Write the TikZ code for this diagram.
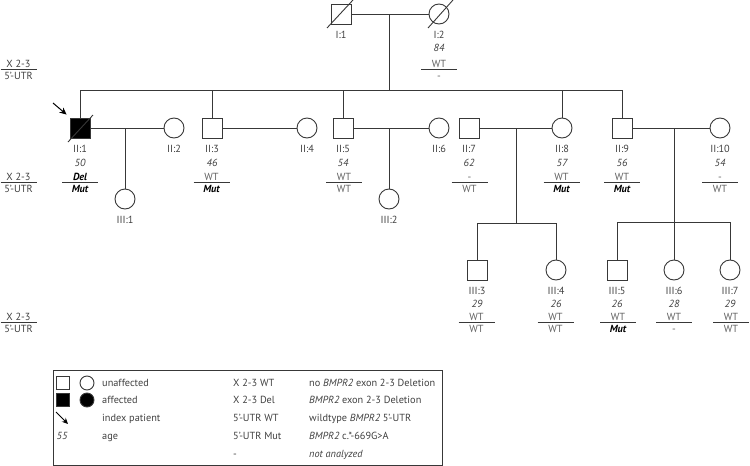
\documentclass[tikz,border=0pt]{standalone}
\usepackage{fontspec}
\setmainfont{PT Sans}
\usetikzlibrary{arrows.meta}
\definecolor{pedline}{gray}{0.22}
\definecolor{labgray}{gray}{0.25}
\definecolor{wtgray}{gray}{0.38}
\newcommand{\pedfont}{\fontsize{10.3}{12}\selectfont}
\newcommand{\mutb}[1]{\textcolor{black}{\bfseries\itshape #1}}
% genotype bar: name, x, y, upper text, lower text
\newcommand{\genobar}[5]{%
  \coordinate (#1) at (#2,#3);
  \draw[ped,line width=0.7pt] ([xshift=-18pt]#1) -- ([xshift=18pt]#1);
  \node[gtxt] (#1u) at ([yshift=1.8pt]#1) {#4};
  \node[gtxt] (#1d) at ([yshift=-10.8pt]#1) {#5};}

\begin{document}
\begin{tikzpicture}[x=1pt,y=-1pt,font=\pedfont,
  ped/.style={draw=pedline,line width=0.9pt},
  male/.style={ped,rectangle,minimum size=20pt,inner sep=0pt,fill=white},
  female/.style={ped,circle,minimum size=20pt,inner sep=0pt,fill=white},
  aff/.style={fill=black},
  lbl/.style={inner sep=0pt,anchor=base,text=labgray},
  age/.style={lbl,font=\pedfont\itshape},
  gtxt/.style={inner sep=0pt,anchor=base,text=wtgray},
  lg/.style={inner sep=0pt,anchor=base west,text=labgray},
  arr/.style={draw=black,line width=1pt,-{Stealth[length=7pt,width=6.5pt]}}]
  \useasboundingbox (0,0) rectangle (750,466);
  % generace I
  \node[male] (I1) at (341,14) {}; \node[female] (I2) at (439,14) {};
  \draw[ped] (I1) -- (I2);
  \draw[ped] ([shift={(-14,14)}]I1.center) -- ([shift={(12,-14)}]I1.center);
  \draw[ped] ([shift={(-11,14)}]I2.center) -- ([shift={(14,-14)}]I2.center);
  \node[lbl] (I1l) at ([yshift=-24pt]I1.center) {I:1};
  \node[lbl] (I2l) at ([yshift=-24pt]I2.center) {I:2};
  \node[age] (I2a) at ([yshift=-37.5pt]I2.center) {84};
  \genobar{gI2}{439}{69}{WT}{-}
  % generace II
  \node[male,aff] (II1) at (80,128) {}; \node[female] (II2) at (174,128) {};
  \node[male] (II3) at (212,128) {}; \node[female] (II4) at (307,128) {};
  \node[male] (II5) at (343,128) {}; \node[female] (II6) at (439,128) {};
  \node[male] (II7) at (469,128) {}; \node[female] (II8) at (562,128) {};
  \node[male] (II9) at (622,128) {}; \node[female] (II10) at (720,128) {};
  \draw[ped] ([shift={(-12,14)}]II1.center) -- ([shift={(13,-13)}]II1.center);
  % sourozenci II
  \coordinate (mI) at (389,14); \coordinate (sII) at (389,90);
  \coordinate (sIIa) at (80,90); \coordinate (sIIb) at (622,90);
  \draw[ped] (mI) -- (sII); \draw[ped] (sIIa) -- (sIIb);
  \foreach \p in {II1,II3,II5,II8,II9} \draw[ped] (\p) -- (\p |- sII);
  % manzelstvi
  \draw[ped] (II1) -- (II2) (II3) -- (II4) (II5) -- (II6) (II7) -- (II8) (II9) -- (II10);
  % index pacient
  \coordinate (idx) at (53,103);
  \draw[arr] (idx) -- ([shift={(-3,-3)}]II1.north west);
  % popisky II
  \foreach \p/\t in {II1/II:1,II2/II:2,II3/II:3,II4/II:4,II5/II:5,II6/II:6,II7/II:7,II8/II:8,II9/II:9,II10/II:10}
    \node[lbl] (\p l) at ([yshift=-24pt]\p.center) {\t};
  \foreach \p/\t in {II1/50,II3/46,II5/54,II7/62,II8/57,II9/56,II10/54}
    \node[age] (\p a) at ([yshift=-38pt]\p.center) {\t};
  \genobar{gII1}{80}{182}{\mutb{Del}}{\mutb{Mut}}
  \genobar{gII3}{211.5}{182}{WT}{\mutb{Mut}}
  \genobar{gII5}{344}{182}{WT}{WT}
  \genobar{gII7}{469.5}{182}{-}{WT}
  \genobar{gII8}{561.5}{182}{WT}{\mutb{Mut}}
  \genobar{gII9}{622}{182}{WT}{\mutb{Mut}}
  \genobar{gII10}{720}{182}{-}{WT}
  % generace III
  \node[female] (III1) at (125,199) {}; \node[female] (III2) at (389,199) {};
  \node[male] (III3) at (477,270) {}; \node[female] (III4) at (556,270) {};
  \node[male] (III5) at (617,270) {}; \node[female] (III6) at (674,270) {};
  \node[female] (III7) at (730,270) {};
  \coordinate (m1) at (125,128); \coordinate (m5) at (389,128);
  \draw[ped] (m1) -- (III1) (m5) -- (III2);
  \coordinate (m7) at (516,128); \coordinate (s7) at (516,223);
  \coordinate (s7a) at (477,223); \coordinate (s7b) at (556,223);
  \draw[ped] (m7) -- (s7) (s7a) -- (s7b) (III3) -- (III3 |- s7) (III4) -- (III4 |- s7);
  \coordinate (m9) at (674,128); \coordinate (s9a) at (617,222); \coordinate (s9b) at (730,222);
  \draw[ped] (m9) -- (III6) (s9a) -- (s9b) (III5) -- (III5 |- s9a) (III7) -- (III7 |- s9a);
  % popisky III
  \foreach \p/\t in {III1/III:1,III2/III:2,III3/III:3,III4/III:4,III5/III:5,III6/III:6,III7/III:7}
    \node[lbl] (\p l) at ([yshift=-24pt]\p.center) {\t};
  \foreach \p/\t in {III3/29,III4/26,III5/26,III6/28,III7/29}
    \node[age] (\p a) at ([yshift=-37pt]\p.center) {\t};
  \genobar{gIII3}{476.5}{322}{WT}{WT}
  \genobar{gIII4}{555.5}{322}{WT}{WT}
  \genobar{gIII5}{618}{322}{WT}{\mutb{Mut}}
  \genobar{gIII6}{674}{322}{WT}{-}
  \genobar{gIII7}{731}{322}{WT}{WT}
  % radky vlevo
  \tikzset{gtxt/.append style={text=labgray}}
  \genobar{rI}{18.5}{69}{X 2-3}{5’-UTR}
  \genobar{rII}{18.5}{182}{X 2-3}{5’-UTR}
  \genobar{rIII}{18.5}{322}{X 2-3}{5’-UTR}
  % legenda
  \draw[ped,line width=0.8pt] (53,370) rectangle (442,465);
  \node[male,minimum size=13pt] (lgM) at (63,383) {}; \node[female,minimum size=14pt] (lgF) at (87,383) {};
  \node[male,aff,minimum size=13pt] (lgMa) at (63,400) {}; \node[female,aff,minimum size=14pt] (lgFa) at (87,400) {};
  \coordinate (lgArr) at (56,412); \coordinate (lgArrE) at (68,424);
  \draw[arr,-{Stealth[length=6pt,width=5.5pt]}] (lgArr) -- (lgArrE);
  \node[age] (lgAge) at (62,439.5) {55};
  \node[lg] (lg1) at (102,386.5) {unaffected};
  \node[lg] (lg2) at (102,403.5) {affected};
  \node[lg] (lg3) at (102,421.5) {index patient};
  \node[lg] (lg4) at (102,439.5) {age};
  \node[lg] (lg5) at (233,386.5) {X 2-3 WT};
  \node[lg] (lg6) at (233,403.5) {X 2-3 Del};
  \node[lg] (lg7) at (233,421.5) {5’-UTR WT};
  \node[lg] (lg8) at (233,439.5) {5’-UTR Mut};
  \node[lg] (lg9) at (233,457.5) {-};
  \node[lg] (lg10) at (309,386.5) {no \textit{BMPR2} exon 2-3 Deletion};
  \node[lg] (lg11) at (309,403.5) {\textit{BMPR2} exon 2-3 Deletion};
  \node[lg] (lg12) at (309,421.5) {wildtype \textit{BMPR2} 5’-UTR};
  \node[lg] (lg13) at (309,439.5) {\textit{BMPR2} c.*-669G>A};
  \node[lg] (lg14) at (309,457.5) {\textit{not analyzed}};
\end{tikzpicture}
\end{document}
